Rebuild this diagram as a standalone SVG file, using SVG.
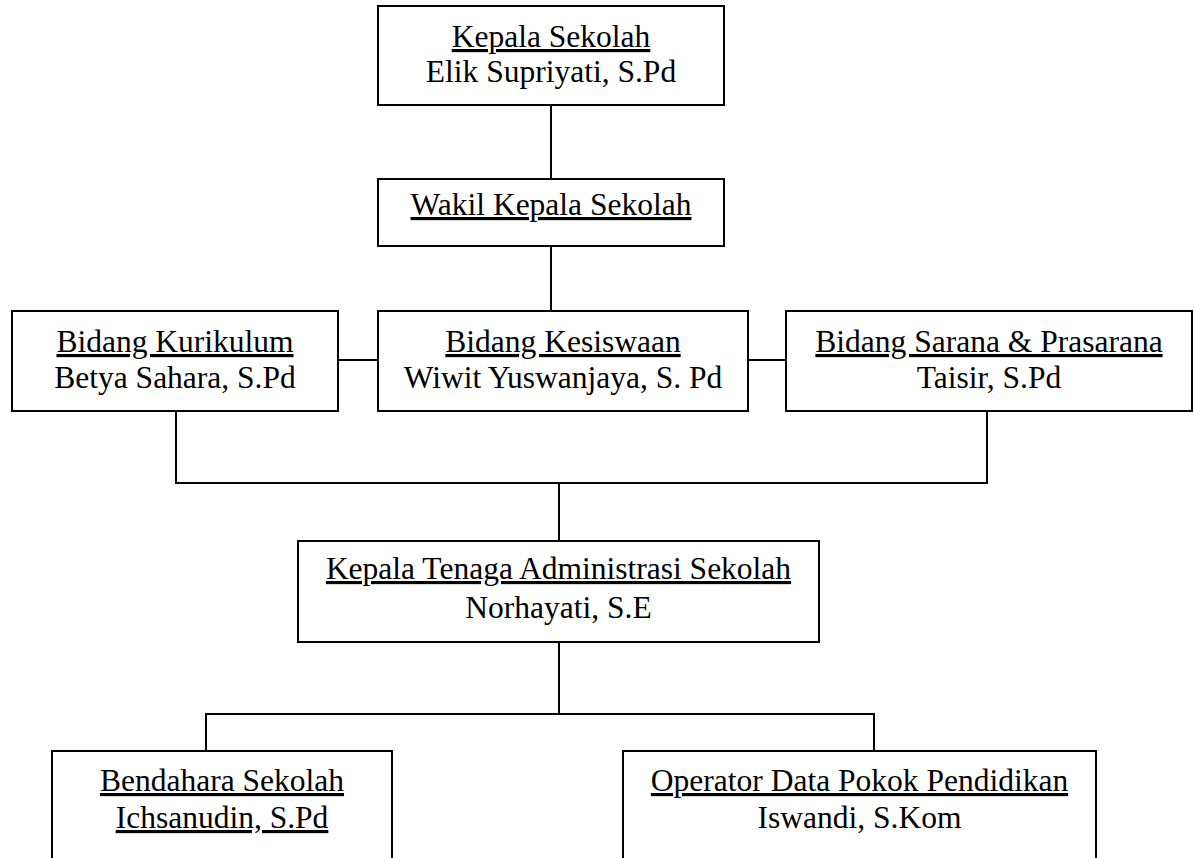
<svg xmlns="http://www.w3.org/2000/svg" width="1194" height="858" viewBox="0 0 1194 858">
<style>
.box{fill:#fff;stroke:#000;stroke-width:2}
.ln{fill:none;stroke:#000;stroke-width:2}
text{font-family:"Liberation Serif","Times New Roman",serif;font-size:31.5px;fill:#000;text-anchor:middle}
.u{text-decoration:underline}
</style>
<rect width="1194" height="858" fill="#fff"/>
<g id="connectors">
<line class="ln" x1="551" y1="105" x2="551" y2="179"/>
<line class="ln" x1="551" y1="246" x2="551" y2="311"/>
<line class="ln" x1="338" y1="360" x2="378" y2="360"/>
<line class="ln" x1="748" y1="360" x2="786" y2="360"/>
<polyline class="ln" points="176,411 176,483 987,483 987,411"/>
<line class="ln" x1="559" y1="483" x2="559" y2="541"/>
<line class="ln" x1="559" y1="642" x2="559" y2="714"/>
<polyline class="ln" points="206,751 206,714 874,714 874,751"/>
</g>
<g id="kepala-sekolah">
<rect class="box" x="378" y="6" width="346" height="99"/>
<text x="551" y="47" class="u">Kepala Sekolah</text>
<text x="551" y="82">Elik Supriyati, S.Pd</text>
</g>
<g id="wakil">
<rect class="box" x="378" y="179" width="346" height="67"/>
<text x="551" y="215" class="u">Wakil Kepala Sekolah</text>
</g>
<g id="kurikulum">
<rect class="box" x="12" y="311" width="326" height="100"/>
<text x="175" y="352" class="u">Bidang Kurikulum</text>
<text x="175" y="388">Betya Sahara, S.Pd</text>
</g>
<g id="kesiswaan">
<rect class="box" x="378" y="311" width="370" height="100"/>
<text x="563" y="352" class="u">Bidang Kesiswaan</text>
<text x="563" y="388">Wiwit Yuswanjaya, S. Pd</text>
</g>
<g id="sarana">
<rect class="box" x="786" y="311" width="406" height="100"/>
<text x="989" y="352" class="u">Bidang Sarana &amp; Prasarana</text>
<text x="989" y="388">Taisir, S.Pd</text>
</g>
<g id="ktas">
<rect class="box" x="298" y="541" width="521" height="101"/>
<text x="558.5" y="579" class="u">Kepala Tenaga Administrasi Sekolah</text>
<text x="558.5" y="618">Norhayati, S.E</text>
</g>
<g id="bendahara">
<rect class="box" x="52" y="751" width="340" height="120"/>
<text x="222" y="791" class="u">Bendahara Sekolah</text>
<text x="222" y="828" class="u">Ichsanudin, S.Pd</text>
</g>
<g id="operator">
<rect class="box" x="623" y="751" width="473" height="120"/>
<text x="859.5" y="791" class="u">Operator Data Pokok Pendidikan</text>
<text x="859.5" y="828">Iswandi, S.Kom</text>
</g>
</svg>
